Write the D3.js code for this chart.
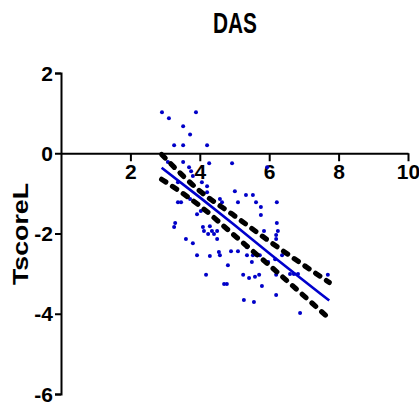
<!DOCTYPE html>
<html>
<head>
<meta charset="utf-8">
<script src="https://cdn.jsdelivr.net/npm/d3@7"></script>
<style>
  html, body { margin: 0; padding: 0; background: #fff; }
  svg { display: block; }
  .ax text { font-family: "Liberation Sans Narrow", "Arial Narrow", "Liberation Sans", Arial, sans-serif; font-weight: bold; fill: #000; }
</style>
</head>
<body>
<svg id="chart" width="419" height="404"></svg>
<script>
// ---- data ----
const pointsX = [2.91,3.11,3.89,3.52,3.72,3.26,3.52,4.21,
  3.08,3.52,3.69,3.75,3.80,4.27,4.93,5.94,
  3.37,4.06,4.21,4.21,
  3.37,3.46,3.72,3.92,3.29,3.26,
  4.09,4.12,4.29,4.35,4.24,4.41,4.50,4.50,
  3.60,3.80,3.92,4.29,4.55,4.58,
  4.58,4.64,5.01,5.33,5.53,5.10,5.62,6.22,5.76,5.76,6.22,6.25,
  5.85,6.20,6.20,
  4.90,5.10,5.36,5.36,5.53,5.65,5.73,
  4.81,4.18,5.50,5.97,6.17,
  5.25,5.42,5.59,5.71,5.79,
  4.70,4.78,
  6.20,5.27,5.56,
  6.20,6.37,
  6.60,6.71,6.83,7.69,6.89,
  4.03];
const pointsY = [1.02,0.87,1.02,0.67,0.47,0.20,0.20,0.20,
  -0.22,-0.22,-0.35,-0.45,-0.57,-0.25,-0.25,-0.35,
  -0.72,-0.72,-0.82,-0.97,
  -1.22,-1.22,-1.14,-1.52,-1.74,-1.84,
  -1.84,-1.94,-1.82,-1.94,-2.01,-2.01,-1.94,-2.14,
  -2.14,-2.24,-2.54,-2.56,-2.46,-2.54,
  -1.14,-1.22,-0.95,-1.04,-1.04,-1.22,-1.22,-1.22,-1.34,-1.54,-1.74,-1.94,
  -1.94,-2.04,-2.14,
  -2.44,-2.44,-2.34,-2.54,-2.54,-2.54,-2.54,
  -2.79,-3.03,-2.71,-2.71,-2.64,
  -3.03,-3.11,-3.08,-3.03,-3.31,
  -3.26,-3.26,
  -3.53,-3.66,-3.71,
  -3.03,-2.54,
  -3.01,-3.01,-3.01,-3.03,-3.98,
  -1.44];

// regression line and 95% confidence band, read at a few x positions
const bandX  = [2.90, 4.00, 5.00, 6.00, 7.73];
const fitY   = [-0.36, -1.10, -1.79, -2.49, -3.67];
const upperY = [-0.03, -0.94, -1.56, -2.19, -3.22];
const lowerY = [-0.65, -1.31, -2.05, -2.79, -4.12];

const xTicks = [2, 4, 6, 8, 10];
const yTicks = [2, 0, -2, -4, -6];
const title = "DAS";
const yLabel = "TscoreL";

// ---- drawing ----
const svg = d3.select("#chart");
const x = d3.scaleLinear().domain([0, 10]).range([61, 408]);
const y = d3.scaleLinear().domain([-6, 2]).range([394, 73]);

// title
svg.append("text")
  .attr("x", 235).attr("y", 33)
  .attr("text-anchor", "middle")
  .attr("font-family", "Liberation Sans, Arial, sans-serif")
  .attr("font-weight", "bold")
  .attr("font-size", 30)
  .attr("textLength", 44).attr("lengthAdjust", "spacingAndGlyphs")
  .text(title);

// y label
svg.append("text")
  .attr("transform", "translate(28,234) rotate(-90)")
  .attr("text-anchor", "middle")
  .attr("font-family", "Liberation Sans, Arial, sans-serif")
  .attr("font-weight", "bold")
  .attr("font-size", 22)
  .attr("textLength", 102).attr("lengthAdjust", "spacingAndGlyphs")
  .text(yLabel);

const fmt = d => String(d);

// y axis
const gy = svg.append("g").attr("class", "ax")
  .attr("transform", `translate(${x(0)},0)`)
  .call(d3.axisLeft(y).tickValues(yTicks).tickSize(6).tickPadding(2).tickFormat(fmt));
gy.selectAll("text").attr("font-size", 21).attr("dy", "0.34em");
gy.select(".domain").attr("stroke-width", 2);
gy.selectAll(".tick line").attr("stroke-width", 2);

// x axis at y = 0
const gx = svg.append("g").attr("class", "ax")
  .attr("transform", `translate(0,${y(0)})`)
  .call(d3.axisBottom(x).tickValues(xTicks).tickSize(8).tickSizeOuter(0).tickPadding(3).tickFormat(fmt));
gx.selectAll("text").attr("font-size", 21);
gx.select(".domain").attr("stroke-width", 2);
gx.selectAll(".tick line").attr("stroke-width", 2);

// points
svg.append("g").selectAll("circle")
  .data(pointsX.map((v, i) => [v, pointsY[i]]))
  .join("circle")
  .attr("cx", d => x(d[0]))
  .attr("cy", d => y(d[1]))
  .attr("r", 2)
  .attr("fill", "#0000c8");

// confidence band
const line = d3.line().x(d => x(d[0])).y(d => y(d[1])).curve(d3.curveMonotoneX);
[upperY, lowerY].forEach(arr => {
  svg.append("path")
    .attr("d", line(bandX.map((v, i) => [v, arr[i]])))
    .attr("fill", "none")
    .attr("stroke", "#000")
    .attr("stroke-width", 5.2)
    .attr("stroke-linecap", "round")
    .attr("stroke-dasharray", "5,8");
});

// fit line
svg.append("path")
  .attr("d", line(bandX.map((v, i) => [v, fitY[i]])))
  .attr("fill", "none")
  .attr("stroke", "#0000cc")
  .attr("stroke-width", 2.6);
</script>
</body>
</html>
